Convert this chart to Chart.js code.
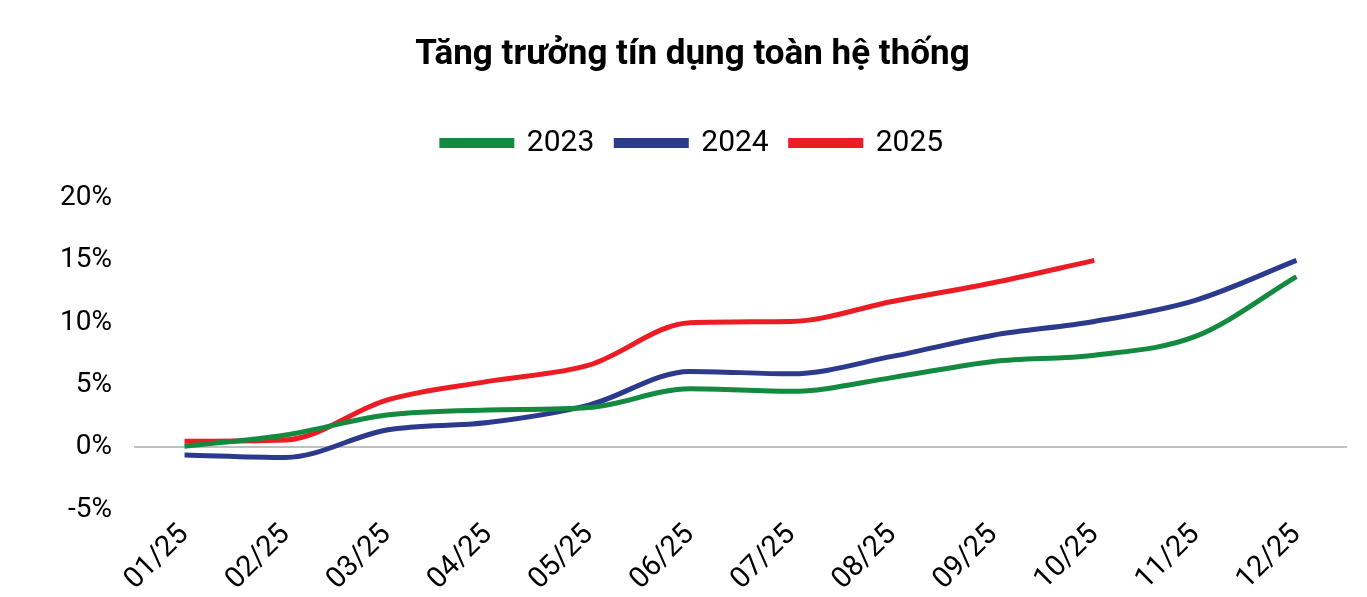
<!DOCTYPE html>
<html><head><meta charset="utf-8">
<script src="https://cdn.jsdelivr.net/npm/chart.js@4/dist/chart.umd.min.js"></script>
<style>html,body{margin:0;background:#fff}#wrap{width:1367px;height:597px}</style>
</head><body><div id="wrap"><canvas id="c"></canvas></div>
<script>
const months = ["01/25","02/25","03/25","04/25","05/25","06/25","07/25","08/25","09/25","10/25","11/25","12/25"];
const s2023 = [0.1, 1.0, 2.6, 3.0, 3.2, 4.7, 4.5, 5.6, 6.9, 7.4, 8.9, 13.7];
const s2024 = [-0.6, -0.8, 1.4, 2.0, 3.4, 6.1, 5.9, 7.3, 9.0, 10.1, 11.8, 15.0];
const s2025 = [0.5, 0.6, 3.8, 5.3, 6.6, 10.0, 10.1, 11.7, 13.2, 15.0];

Chart.defaults.font.family = "Roboto";
Chart.defaults.color = "#000";

// legend gets extra space below it
const legendGap = { id: "legendGap", beforeInit(chart) {
  const fit = chart.legend.fit;
  chart.legend.fit = function () { fit.bind(chart.legend)(); this.height += 30; };
} };

new Chart(document.getElementById("c"), {
  type: "line",
  data: {
    labels: months,
    datasets: [
      { label: "2023", data: s2023, borderColor: "#138a3f", backgroundColor: "#138a3f" },
      { label: "2024", data: s2024, borderColor: "#2b3a8c", backgroundColor: "#2b3a8c" },
      { label: "2025", data: s2025, borderColor: "#ec1c24", backgroundColor: "#ec1c24" },
    ],
  },
  plugins: [legendGap],
  options: {
    responsive: true,
    maintainAspectRatio: false,
    animation: false,
    layout: { padding: { left: 38, right: 20, top: 8, bottom: 0 } },
    elements: { line: { borderWidth: 5, tension: 0.4, cubicInterpolationMode: "monotone" }, point: { radius: 0 } },
    plugins: {
      title: { display: true, text: "Tăng trưởng tín dụng toàn hệ thống", font: { size: 35, weight: "bold" }, padding: { top: 26, bottom: 30 } },
      legend: { labels: { font: { size: 30 }, boxWidth: 70, boxHeight: 5, padding: 22 } },
      tooltip: { enabled: false },
    },
    scales: {
      x: {
        offset: true,
        grid: { display: false },
        border: { display: false },
        ticks: { font: { size: 29 }, maxRotation: 45, minRotation: 45, padding: 0 },
      },
      y: {
        min: -5, max: 20,
        ticks: { stepSize: 5, font: { size: 28 }, padding: 22, callback: v => v + "%" },
        grid: { drawTicks: false, color: ctx => ctx.tick && ctx.tick.value === 0 ? "#bfbfbf" : "transparent", lineWidth: 2 },
        border: { display: false },
      },
    },
  },
});
</script></body></html>
